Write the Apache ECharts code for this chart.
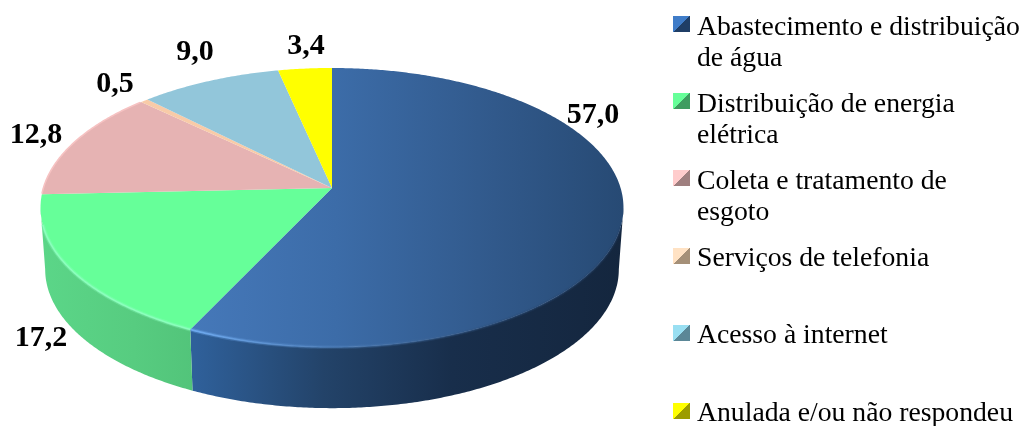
<!DOCTYPE html>
<html><head><meta charset="utf-8">
<style>html,body{margin:0;padding:0;background:#fff}#c{width:1025px;height:426px}</style>
<script src="https://cdn.jsdelivr.net/npm/echarts@6/dist/echarts.min.js"></script>
</head><body><div id="c"></div>
<script>
const categories = ["Abastecimento e distribuição de água","Distribuição de energia elétrica","Coleta e tratamento de esgoto","Serviços de telefonia","Acesso à internet","Anulada e/ou não respondeu"];
const legendLines = ["Abastecimento e distribuição\nde água","Distribuição de energia\nelétrica","Coleta e tratamento de\nesgoto","Serviços de telefonia","Acesso à internet","Anulada e/ou não respondeu"];
const values = [57.0,17.2,12.8,0.5,9.0,3.4];
const valueLabels = ["57,0","17,2","12,8","0,5","9,0","3,4"];

// styling and layout (not data)
const G = (x,y,x2,y2,stops,glob)=>new echarts.graphic.LinearGradient(x,y,x2,y2,stops.map((c,i)=>({offset:c[0],color:c[1]})),glob);
const blueTop = G(195,0,623,0,[[0,'#4578b9'],[0.33,'#3c6ca8'],[0.7,'#31598b'],[1,'#274a74']],true);
const topFill = [blueTop,'#66ff99','#e6b3b3','#f8cba8','#92c6da','#ffff00'];
const sideFill = [
  G(195,0,623,0,[[0,'#2f609a'],[0.3,'#234369'],[0.6,'#182e4b'],[1,'#14263e']],true),
  G(42,0,195,0,[[0,'#5bd688'],[0.6,'#57cc80'],[1,'#52c47a']],true),
  '#d9a0a0','#e0b890','#7fb0c2','#e0e000'];
const rimStroke = [
  G(195,0,623,0,[[0,'rgba(110,170,240,0.95)'],[0.3,'rgba(80,130,190,0.7)'],[0.7,'rgba(45,80,125,0.6)'],[1,'rgba(35,65,105,0.5)']],true),
  'rgba(140,255,190,0.85)', null,null,null,null];
const outerStroke = [null,null,'#f6c2c2',null,null,null];
const iconPairs = [['#3f7cc8','#1f3e66'],['#66ff99','#3e9c60'],['#ffcccc','#9f7f7f'],['#ffe2c4','#a59078'],['#99dff2','#5b8797'],['#ffff00','#9c9c00']];
const labelPos = [[593,115],[41,338],[36,135],[115,84],[195,52],[306,46]];
const legendTops = [12,89,166,243,320,398];

// perspective projection of the pie disc
const CX=332, K=0.14;
const proj=(deg,a,b,c)=>{const r=deg*Math.PI/180,t=Math.cos(r),d=1+K*t;return [CX+c*Math.sin(r)/d,(a+b*t)/d];};
const topP=d=>proj(d,188,-110.5,288.6);
const botP=d=>proj(d,250,-101,284);
const arc=(f,s,e)=>{const n=Math.max(2,Math.ceil((e-s)/0.5)),o=[];for(let i=0;i<=n;i++)o.push(f(s+(e-s)*i/n));return o;};

const total = values.reduce((a,b)=>a+b,0);
let cum=0;
const starts = values.map(v=>{const s=cum;cum+=v;return s;});

function renderSlice(i){
  return function(params,api){
    const v=api.value(0), st=api.value(1);
    const a0=st/total*360, a1=(st+v)/total*360;
    const children=[];
    const s=Math.max(a0,98.05), e=Math.min(a1,261.95);
    if(e>s){
      const t=arc(topP,s,e), b=arc(botP,s,e).reverse();
      children.push({type:'polygon',shape:{points:t.concat(b)},style:{fill:sideFill[i]}});
    }
    children.push({type:'polygon',shape:{points:[[CX,188]].concat(arc(topP,a0,a1))},style:{fill:topFill[i]}});
    if(rimStroke[i]&&e>s){
      const rim=arc(topP,Math.max(s,106),Math.min(e,255));
      children.push({type:'polyline',shape:{points:rim},style:{stroke:rimStroke[i],lineWidth:4,opacity:0.35,fill:null}});
      children.push({type:'polyline',shape:{points:rim},style:{stroke:rimStroke[i],lineWidth:1.8,fill:null}});
    }
    if(outerStroke[i]){
      children.push({type:'polyline',shape:{points:arc(topP,a0+0.3,a1-0.3)},style:{stroke:outerStroke[i],lineWidth:1.6,fill:null}});
    }
    children.push({type:'text',z2:50,style:{text:valueLabels[i],x:labelPos[i][0],y:labelPos[i][1],align:'center',verticalAlign:'middle',font:'bold 30px "Liberation Serif"',fill:'#000'}});
    return {type:'group',children};
  };
}

const series = categories.map((name,i)=>({
  type:'custom',name,coordinateSystem:'none',silent:true,
  data:[[values[i],starts[i]]],
  itemStyle:{color:iconPairs[i][0]},
  renderItem:renderSlice(i)
}));

const legend = categories.map((name,i)=>{
  const two=legendLines[i].includes('\n');
  const h=two?54:21;
  return {
    left:673,top:legendTops[i],orient:'vertical',padding:0,itemWidth:17,itemHeight:h,itemGap:0,selectedMode:false,
    formatter:()=>legendLines[i],
    textStyle:{fontFamily:'"Liberation Serif"',fontSize:27.7,lineHeight:31,color:'#000',padding:[0,0,0,2]},
    data:[{name,
      icon:'path://M0 0H17V16H0Z M0 '+h+'L0.01 '+h,
      itemStyle:{color:G(0,0,1,16/h,[[0,iconPairs[i][0]],[0.5,iconPairs[i][0]],[0.5,iconPairs[i][1]],[1,iconPairs[i][1]]],false)}}]
  };
});

const chart=echarts.init(document.getElementById('c'));
chart.setOption({animation:false,backgroundColor:'#fff',tooltip:{show:false},legend,series});
</script></body></html>
